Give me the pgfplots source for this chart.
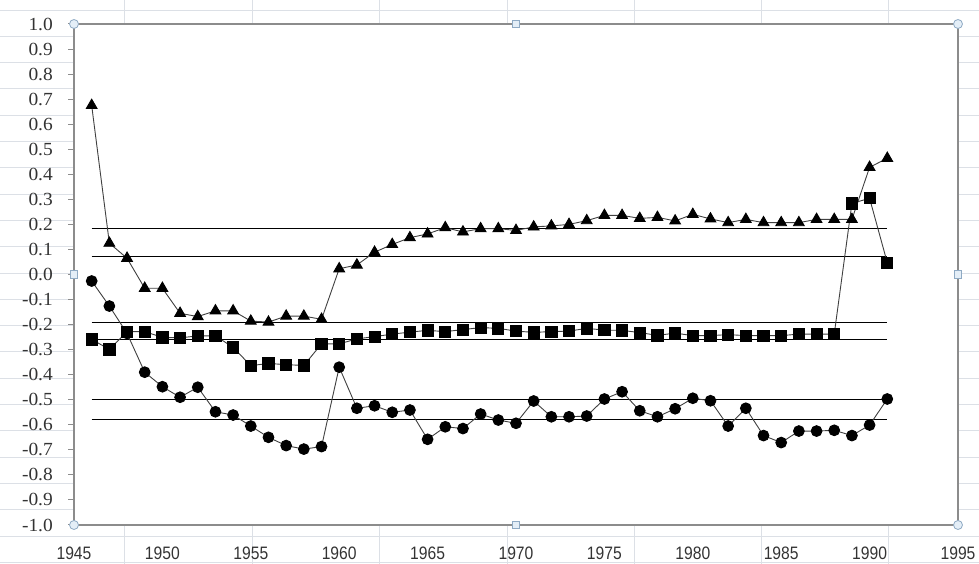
\documentclass[border=0pt]{standalone}
\usepackage{pgfplots}
\pgfplotsset{compat=1.18}
\usepackage{pgfplotstable}
\usepackage{fontspec}
\setmainfont{Liberation Serif}
\newfontfamily\xfont[FakeStretch=0.87]{Liberation Sans}
\newfontfamily\yfont[FakeStretch=1.05]{Liberation Serif}
\definecolor{cellgrid}{HTML}{DCE0E6}
\definecolor{axgray}{HTML}{8C8C8C}
\definecolor{hfill}{HTML}{E4EEF7}
\definecolor{hdraw}{HTML}{8FAAC4}
\definecolor{dline}{HTML}{404040}

\pgfplotstableread{
year val
1946 0.675
1947 0.125
1948 0.065
1949 -0.055
1950 -0.055
1951 -0.155
1952 -0.168
1953 -0.145
1954 -0.145
1955 -0.186
1956 -0.190
1957 -0.166
1958 -0.166
1959 -0.179
1960 0.023
1961 0.038
1962 0.089
1963 0.120
1964 0.147
1965 0.162
1966 0.187
1967 0.170
1968 0.183
1969 0.183
1970 0.176
1971 0.190
1972 0.194
1973 0.200
1974 0.215
1975 0.236
1976 0.236
1977 0.224
1978 0.228
1979 0.214
1980 0.240
1981 0.222
1982 0.207
1983 0.220
1984 0.207
1985 0.207
1986 0.207
1987 0.220
1988 0.220
1989 0.220
1990 0.428
1991 0.464
}\tri

\pgfplotstableread{
year val
1946 -0.259
1947 -0.299
1948 -0.228
1949 -0.228
1950 -0.251
1951 -0.253
1952 -0.245
1953 -0.245
1954 -0.291
1955 -0.364
1956 -0.355
1957 -0.360
1958 -0.363
1959 -0.277
1960 -0.277
1961 -0.257
1962 -0.248
1963 -0.238
1964 -0.230
1965 -0.223
1966 -0.228
1967 -0.220
1968 -0.212
1969 -0.215
1970 -0.226
1971 -0.231
1972 -0.228
1973 -0.226
1974 -0.215
1975 -0.222
1976 -0.223
1977 -0.232
1978 -0.243
1979 -0.234
1980 -0.244
1981 -0.244
1982 -0.240
1983 -0.244
1984 -0.244
1985 -0.244
1986 -0.238
1987 -0.238
1988 -0.238
1989 0.284
1990 0.304
1991 0.047
}\sq

\pgfplotstableread{
year val
1946 -0.026
1947 -0.126
1948 -0.235
1949 -0.390
1950 -0.448
1951 -0.490
1952 -0.450
1953 -0.548
1954 -0.561
1955 -0.605
1956 -0.650
1957 -0.683
1958 -0.697
1959 -0.687
1960 -0.370
1961 -0.534
1962 -0.524
1963 -0.550
1964 -0.541
1965 -0.658
1966 -0.608
1967 -0.615
1968 -0.557
1969 -0.581
1970 -0.594
1971 -0.505
1972 -0.568
1973 -0.568
1974 -0.565
1975 -0.497
1976 -0.468
1977 -0.544
1978 -0.568
1979 -0.536
1980 -0.494
1981 -0.504
1982 -0.605
1983 -0.534
1984 -0.643
1985 -0.671
1986 -0.625
1987 -0.625
1988 -0.622
1989 -0.643
1990 -0.601
1991 -0.497
}\circ

\begin{document}
\begin{tikzpicture}[x=1pt,y=1pt]
\path[use as bounding box] (-74,-39) rectangle (905,525);
% spreadsheet cell grid behind the chart
\foreach \k in {0,...,21} {
  \draw[cellgrid, line width=0.8pt] (-74,{515-26.3*\k}) -- (905,{515-26.3*\k});
}
\foreach \c in {50,178,305,433,560,687,814} {
  \draw[cellgrid, line width=0.8pt] (\c,-39) -- (\c,525);
}
\begin{axis}[
  at={(0,0)}, anchor=south west,
  scale only axis, width=884pt, height=501pt,
  xmin=1945, xmax=1995, ymin=-1, ymax=1,
  clip=false,
  axis background/.style={fill=white},
  axis line style={axgray, line width=1.2pt},
  tick pos=left, tick align=outside,
  major tick length=6pt,
  xtick={1945,1950,1955,1960,1965,1970,1975,1980,1985,1990,1995},
  xticklabels={1945,1950,1955,1960,1965,1970,1975,1980,1985,1990,1995},
  xtick style={draw=none},
  xticklabel style={font=\xfont\fontsize{18}{18}\selectfont, text=black!80, inner sep=0pt, anchor=north},
  xticklabel shift=16pt,
  ytick={-1,-0.9,-0.8,-0.7,-0.6,-0.5,-0.4,-0.3,-0.2,-0.1,0,0.1,0.2,0.3,0.4,0.5,0.6,0.7,0.8,0.9,1},
  yticklabels={-1.0,-0.9,-0.8,-0.7,-0.6,-0.5,-0.4,-0.3,-0.2,-0.1,0.0,0.1,0.2,0.3,0.4,0.5,0.6,0.7,0.8,0.9,1.0},
  ytick style={axgray, line width=1pt},
  yticklabel style={font=\yfont\fontsize{18.5}{18.5}\selectfont, text=black!80, inner sep=0pt, anchor=east},
  yticklabel shift=15pt,
]
% reference lines
\addplot[black, line width=0.9pt] coordinates {(1946,0.182) (1991,0.182)};
\addplot[black, line width=0.9pt] coordinates {(1946,0.073) (1991,0.073)};
\addplot[black, line width=0.9pt] coordinates {(1946,-0.190) (1991,-0.190)};
\addplot[black, line width=0.9pt] coordinates {(1946,-0.261) (1991,-0.261)};
\addplot[black, line width=0.9pt] coordinates {(1946,-0.497) (1991,-0.497)};
\addplot[black, line width=0.9pt] coordinates {(1946,-0.577) (1991,-0.577)};
% series
\addplot[dline, line width=0.9pt, mark=triangle*, mark size=6.2pt, mark options={black, fill=black, solid}] table[x=year, y=val] {\tri};
\addplot[dline, line width=0.9pt, mark=square*, mark size=5.6pt, mark options={black, fill=black, solid}] table[x=year, y=val] {\sq};
\addplot[dline, line width=0.9pt, mark=*, mark size=5.4pt, mark options={black, fill=black, solid}] table[x=year, y=val] {\circ};
% chart selection handles
\addplot[only marks, mark=*, mark size=4.5pt, mark options={fill=hfill, draw=hdraw, line width=0.8pt}] coordinates {(1945,1) (1995,1) (1945,-1) (1995,-1)};
\addplot[only marks, mark=square*, mark size=3.6pt, mark options={fill=hfill, draw=hdraw, line width=0.8pt}] coordinates {(1970,1) (1970,-1) (1945,0) (1995,0)};
\end{axis}
\end{tikzpicture}
\end{document}
